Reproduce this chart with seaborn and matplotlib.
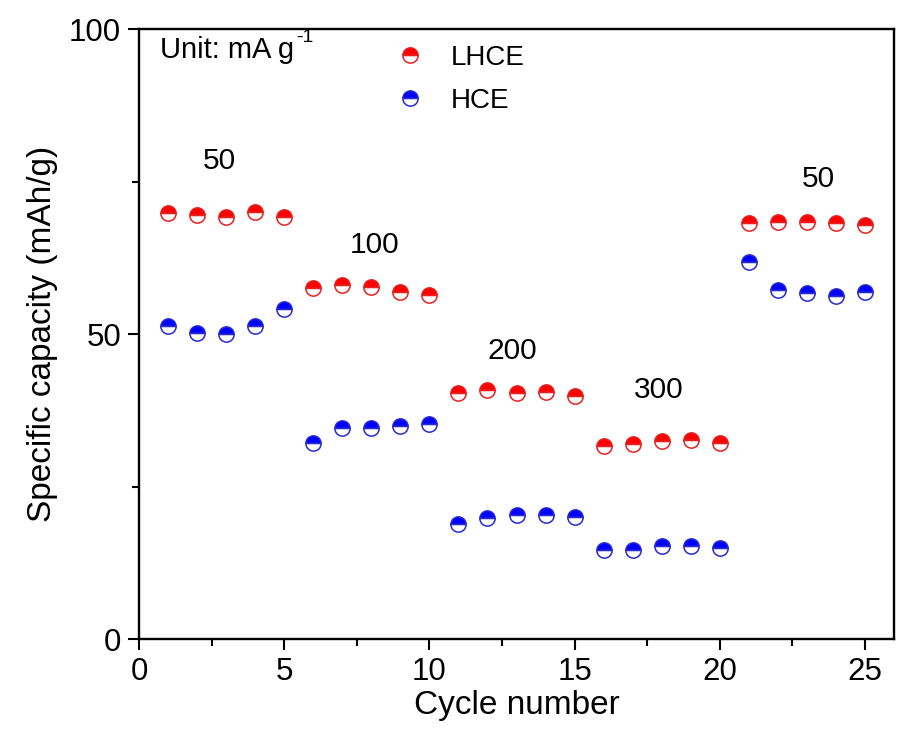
import matplotlib
matplotlib.use("Agg")
import matplotlib.pyplot as plt
from matplotlib.ticker import MultipleLocator
import numpy as np
import pandas as pd
import seaborn as sns

# Rate capability: specific capacity for each cycle at stepped current densities
cycles = list(range(1, 26))
lhce = [69.9, 69.5, 69.3, 70.0, 69.3,
        57.6, 58.0, 57.7, 56.9, 56.5,
        40.3, 40.8, 40.3, 40.6, 39.9,
        31.7, 32.0, 32.5, 32.6, 32.2,
        68.3, 68.4, 68.4, 68.3, 68.0]
hce = [51.4, 50.2, 50.0, 51.4, 54.2,
       32.1, 34.6, 34.6, 34.9, 35.3,
       18.9, 19.8, 20.4, 20.4, 20.0,
       14.6, 14.6, 15.2, 15.2, 14.9,
       61.9, 57.2, 56.8, 56.3, 57.0]
rate_labels = ["50", "100", "200", "300", "50"]
rate_label_x = [2.78, 8.1, 12.86, 17.9, 23.4]
rate_label_y = [78.4, 64.7, 47.2, 40.9, 75.4]

df = pd.DataFrame({"cycle": cycles, "LHCE": lhce, "HCE": hce})

sns.set_style("ticks")
plt.rcParams["font.family"] = ["Liberation Sans", "DejaVu Sans"]
for key in ("text.color", "axes.labelcolor", "xtick.color", "ytick.color",
            "axes.edgecolor"):
    plt.rcParams[key] = "black"

fig = plt.figure(figsize=(8.97, 7.38), dpi=100)
ax = fig.add_axes([0.155, 0.1341, 0.8417, 0.826])

series = [("LHCE", "#ff0000", "#e52222"), ("HCE", "#0000ff", "#2a2ad0")]
for name, face, edge in series:
    sns.lineplot(data=df, x="cycle", y=name, ax=ax, linestyle="", marker="o",
                 color=face, markersize=11, fillstyle="top",
                 markerfacecoloralt="white", markeredgecolor=edge,
                 markeredgewidth=1.1, label=name)

for txt, x, y in zip(rate_labels, rate_label_x, rate_label_y):
    ax.text(x, y, txt, fontsize=21.5, ha="center", va="center")

unit = ax.text(0.028, 0.967, "Unit: mA g", transform=ax.transAxes,
               fontsize=21, ha="left", va="center")
ax.annotate("-1", xy=(1.0, 0.62), xycoords=unit, fontsize=14,
            ha="left", va="bottom", xytext=(1, 0), textcoords="offset points")

ax.set_xlim(0, 26)
ax.set_ylim(0, 100)
ax.xaxis.set_major_locator(MultipleLocator(5))
ax.xaxis.set_minor_locator(MultipleLocator(2.5))
ax.yaxis.set_major_locator(MultipleLocator(50))
ax.yaxis.set_minor_locator(MultipleLocator(25))

ax.tick_params(which="both", direction="out", width=1.5, colors="black",
               top=False, right=False)
ax.tick_params(which="major", length=8, labelsize=22.5, pad=5)
ax.tick_params(which="minor", length=5)
for sp in ax.spines.values():
    sp.set_visible(True)
    sp.set_linewidth(1.7)
    sp.set_color("black")

ax.set_xlabel("Cycle number", fontsize=24, labelpad=2)
ax.set_ylabel("Specific capacity (mAh/g)", fontsize=24, labelpad=8)

leg = ax.legend(loc="upper left", bbox_to_anchor=(0.316, 1.0), frameon=False,
                fontsize=20, handlelength=1.2, handletextpad=0.9,
                labelspacing=0.62, borderaxespad=0.15)

fig.savefig("out.png", dpi=100, facecolor="white")
